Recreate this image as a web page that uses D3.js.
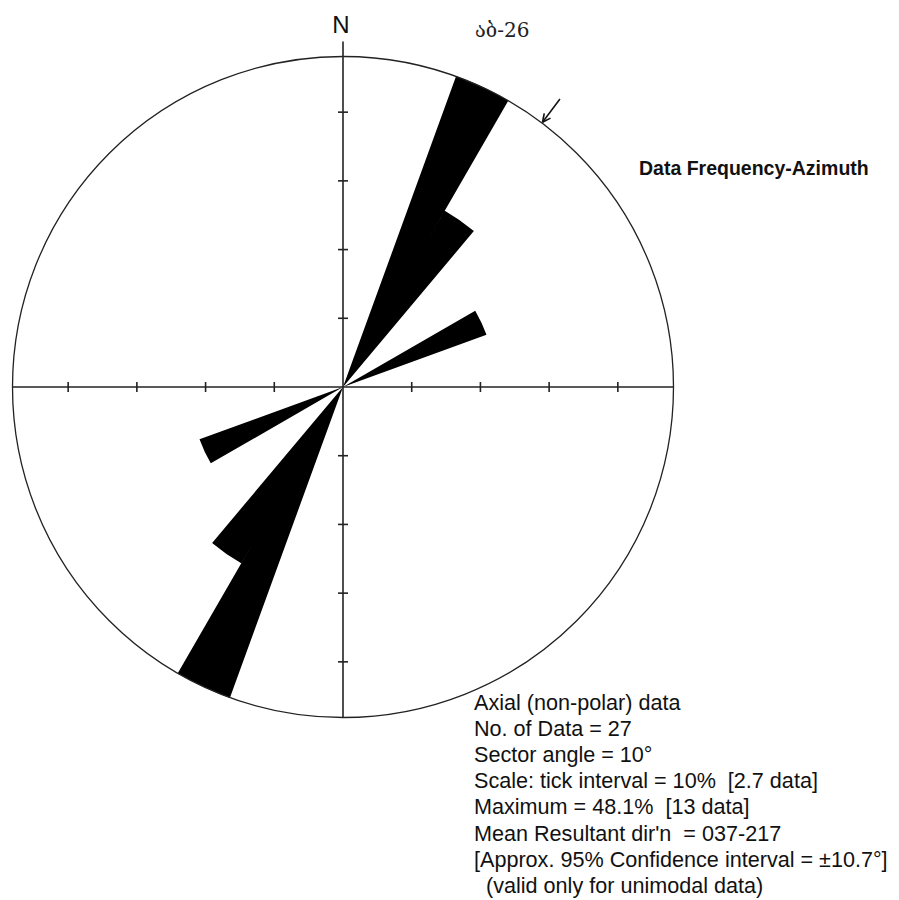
<!DOCTYPE html>
<html>
<head>
<meta charset="utf-8">
<script src="https://cdn.jsdelivr.net/npm/d3@7/dist/d3.min.js"></script>
<style>
  html, body { margin: 0; padding: 0; background: #fff; }
  svg { display: block; }
  text { white-space: pre; }
</style>
</head>
<body>
<svg id="chart" width="899" height="900"></svg>
<script>
// ---- data ----
const sectorAngle = 10;                       // degrees
const sectorStarts = d3.range(0, 180, 10);    // axial: 0..170
const sectorCounts = [0, 0, 13, 8, 0, 0, 6, 0, 0, 0, 0, 0, 0, 0, 0, 0, 0, 0];
const totalData = 27;
const maxPercent = 48.1;
const tickValues = [10, 20, 30, 40];
const meanDirection = 37;
const title = "Data Frequency-Azimuth";
const sampleLabel = "აბ-26";
const northLabel = "N";
const statsLines = [
  "Axial (non-polar) data",
  "No. of Data = 27",
  "Sector angle = 10°",
  "Scale: tick interval = 10%  [2.7 data]",
  "Maximum = 48.1%  [13 data]",
  "Mean Resultant dir'n  = 037-217",
  "[Approx. 95% Confidence interval = ±10.7°]",
  "  (valid only for unimodal data)"
];

// ---- layout ----
const cx = 343, cy = 387, R = 330.5;
const svg = d3.select("#chart");
const g = svg.append("g").attr("transform", `translate(${cx},${cy})`);
const r = d3.scaleLinear().domain([0, maxPercent]).range([0, R]);
const rad = d => d * Math.PI / 180;

// petals (axial -> mirrored)
const petals = [];
sectorStarts.forEach((s, i) => {
  const pct = sectorCounts[i] / totalData * 100;
  if (pct > 0) {
    petals.push({ start: s, pct });
    petals.push({ start: s + 180, pct });
  }
});
const arc = d3.arc().innerRadius(0);
// all sectors drawn in one path so that adjacent sectors show no seam
g.append("path")
  .datum(petals)
  .attr("d", ps => ps.map(d => arc({ outerRadius: r(d.pct), startAngle: rad(d.start), endAngle: rad(d.start + sectorAngle) })).join(""))
  .attr("fill", "#000").attr("fill-rule", "nonzero");

// outer circle
g.append("circle").attr("r", R).attr("fill", "none").attr("stroke", "#222").attr("stroke-width", 1.3);

// axes
g.append("line").attr("x1", -R).attr("x2", R).attr("y1", 0).attr("y2", 0)
  .attr("stroke", "#222").attr("stroke-width", 1.6);
g.append("line").attr("x1", 0).attr("x2", 0).attr("y1", -(R + 15)).attr("y2", R)
  .attr("stroke", "#222").attr("stroke-width", 1.6);

// ticks along the four axis directions
const dirs = [[0, -1], [0, 1], [-1, 0], [1, 0]];
const tickLen = 5;
dirs.forEach(([dx, dy]) => {
  g.selectAll(null).data(tickValues).enter().append("line")
    .attr("x1", v => dx * r(v) + (dx === 0 ? -tickLen : 0))
    .attr("x2", v => dx * r(v) + (dx === 0 ? tickLen : 0))
    .attr("y1", v => dy * r(v) + (dy === 0 ? -tickLen : 0))
    .attr("y2", v => dy * r(v) + (dy === 0 ? tickLen : 0))
    .attr("stroke", "#222").attr("stroke-width", 1.6);
});

// mean direction arrow
const a = rad(meanDirection);
const px = (rr, ang) => rr * Math.sin(ang), py = (rr, ang) => -rr * Math.cos(ang);
g.append("line")
  .attr("x1", px(R + 30, a)).attr("y1", py(R + 30, a))
  .attr("x2", px(R + 1, a)).attr("y2", py(R + 1, a))
  .attr("stroke", "#111").attr("stroke-width", 1.6);
const tip = [px(R + 1, a), py(R + 1, a)];
[-0.45, 0.45].forEach(off => {
  const back = a + off;
  g.append("line")
    .attr("x1", tip[0]).attr("y1", tip[1])
    .attr("x2", tip[0] + 9 * Math.sin(back)).attr("y2", tip[1] - 9 * Math.cos(back))
    .attr("stroke", "#111").attr("stroke-width", 1.6);
});

// labels
svg.append("text").attr("x", 341).attr("y", 33).attr("text-anchor", "middle")
  .attr("font-family", "Liberation Sans, Arial, sans-serif").attr("font-size", 24)
  .attr("fill", "#111").text(northLabel);
svg.append("text").attr("x", 475).attr("y", 37)
  .attr("font-family", "DejaVu Serif, Liberation Serif, serif").attr("font-size", 20)
  .attr("fill", "#222").text(sampleLabel);
svg.append("text").attr("x", 639).attr("y", 175)
  .attr("font-family", "Liberation Sans, Arial, sans-serif").attr("font-size", 19.5)
  .attr("font-weight", "bold").attr("fill", "#111").text(title);

svg.append("g").selectAll("text").data(statsLines).enter().append("text")
  .attr("x", 474).attr("y", (d, i) => 710 + i * 26.1)
  .attr("font-family", "Liberation Sans, Arial, sans-serif").attr("font-size", 21.6)
  .attr("fill", "#111").text(d => d);
</script>
</body>
</html>
